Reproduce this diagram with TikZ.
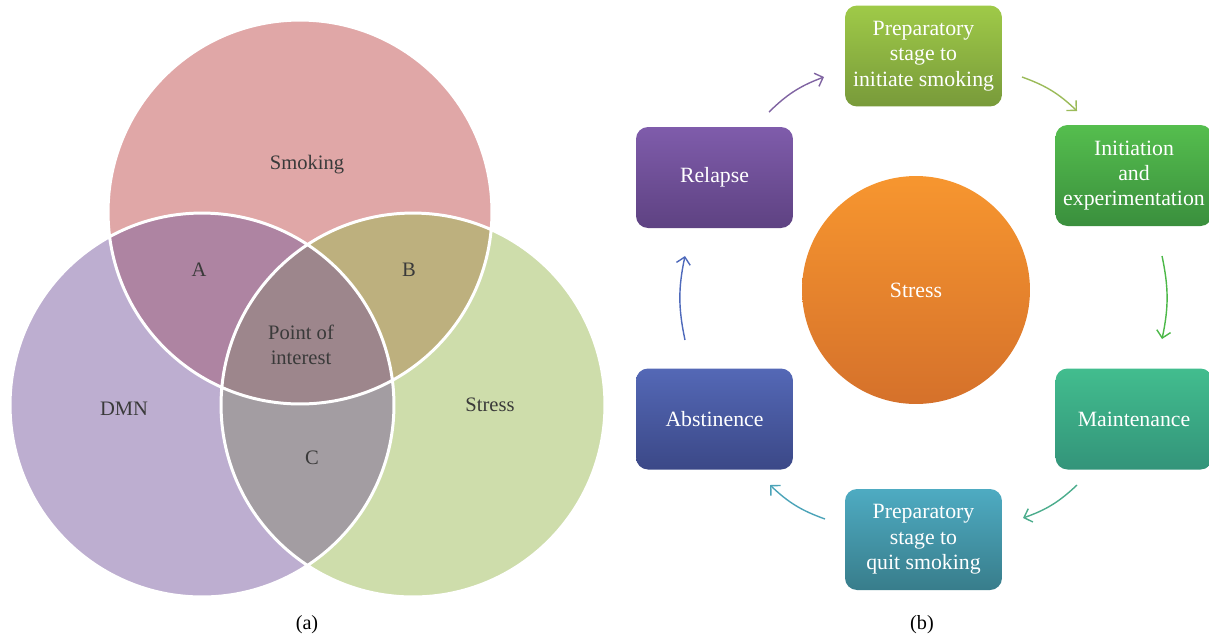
\documentclass[tikz,border=0pt]{standalone}
\usepackage{fontspec}
\setmainfont{Liberation Serif}
\usetikzlibrary{arrows.meta}
\definecolor{smk}{HTML}{E0A7A7}
\definecolor{dmn}{HTML}{BDAED0}
\definecolor{strs}{HTML}{CEDDAB}
\definecolor{regA}{HTML}{AE84A2}
\definecolor{regB}{HTML}{BDB07E}
\definecolor{regC}{HTML}{A39DA2}
\definecolor{regP}{HTML}{9D868C}
\definecolor{vtext}{HTML}{3A3A3A}
\definecolor{aPur}{HTML}{8064A2}
\definecolor{aLg}{HTML}{9BBB59}
\definecolor{aGr}{HTML}{4CB848}
\definecolor{aTe}{HTML}{4BAC8C}
\definecolor{aCy}{HTML}{4BA3B8}
\definecolor{aBl}{HTML}{4F6ABB}
\definecolor{stT}{HTML}{F7962F}\definecolor{stB}{HTML}{D5712B}
\definecolor{prT}{HTML}{9FCA48}\definecolor{prB}{HTML}{789A3A}
\definecolor{inT}{HTML}{55BE4E}\definecolor{inB}{HTML}{3A8F3D}
\definecolor{maT}{HTML}{42BD8E}\definecolor{maB}{HTML}{33947A}
\definecolor{quT}{HTML}{4EABC2}\definecolor{quB}{HTML}{387D8B}
\definecolor{abT}{HTML}{5468B6}\definecolor{abB}{HTML}{3B4887}
\definecolor{reT}{HTML}{7F5CAB}\definecolor{reB}{HTML}{5E4282}
\tikzset{
  vlabel/.style={text=vtext, font=\fontsize{11.7}{14.2}\selectfont, align=center},
  stagebox/.style={rectangle, rounded corners=0.24cm, minimum width=3.14cm, minimum height=2.02cm,
    text=white, align=center, font=\fontsize{12.4}{14.4}\selectfont, inner sep=1pt},
  arr/.style={line width=0.8pt, -{Straight Barb[length=4pt,width=8pt,line width=0.8pt]}},
  caption/.style={text=black, font=\fontsize{11.5}{14}\selectfont}
}
\begin{document}
\begin{tikzpicture}[x=0.02cm,y=-0.02cm]
\useasboundingbox (0,0) rectangle (1209,637);
% ---------- Venn (a)
\def\smkc{(300,212) circle (3.84cm)}
\def\dmnc{(202,405) circle (3.84cm)}
\def\strc{(413,405) circle (3.84cm)}
\fill[smk] \smkc;
\fill[dmn] \dmnc;
\fill[strs] \strc;
\begin{scope}\clip \smkc; \fill[regA] \dmnc; \end{scope}
\begin{scope}\clip \smkc; \fill[regB] \strc; \end{scope}
\begin{scope}\clip \dmnc; \fill[regC] \strc; \end{scope}
\begin{scope}\clip \smkc; \clip \dmnc; \fill[regP] \strc; \end{scope}
\draw[white, line width=1.7pt] \smkc \dmnc \strc;
\node[vlabel] (lsmk) at (307,165) {Smoking};
\node[vlabel] (la) at (199,270) {A};
\node[vlabel] (lb) at (409,270) {B};
\node[vlabel] (lp) at (301,345) {Point of\\interest};
\node[vlabel] (ldmn) at (124,409) {DMN};
\node[vlabel] (lstr) at (490,405) {Stress};
\node[vlabel] (lc) at (312,458) {C};
\node[caption] (capa) at (307,625) {(a)};
% ---------- Cycle (b)
\node[circle, minimum size=4.56cm, top color=stT, bottom color=stB, text=white,
  font=\fontsize{12.4}{14}\selectfont] (stress) at (916,290) {Stress};
\node[stagebox, top color=prT, bottom color=prB] (prep) at (923.5,56) {Preparatory\\stage to\\initiate smoking};
\node[stagebox, top color=inT, bottom color=inB] (init) at (1134,175.5) {Initiation\\and\\experimentation};
\node[stagebox, top color=maT, bottom color=maB] (maint) at (1134,419) {Maintenance};
\node[stagebox, top color=quT, bottom color=quB] (quit) at (923.5,539.5) {Preparatory\\stage to\\quit smoking};
\node[stagebox, top color=abT, bottom color=abB] (abst) at (714.5,419) {Abstinence};
\node[stagebox, top color=reT, bottom color=reB] (relapse) at (714.5,177.5) {Relapse};
% arrow end points
\coordinate (r1) at (769,112); \coordinate (r2) at (824,77);
\coordinate (p1) at (1022,77); \coordinate (p2) at (1077,111);
\coordinate (i1) at (1162,256); \coordinate (i2) at (1162,339);
\coordinate (m1) at (1077,485); \coordinate (m2) at (1023,518);
\coordinate (q1) at (825,519); \coordinate (q2) at (770,485);
\coordinate (a1) at (685,340); \coordinate (a2) at (685,256);
\draw[arr, aPur] (r1) to[bend left=12] (r2);
\draw[arr, aLg] (p1) to[bend left=12] (p2);
\draw[arr, aGr] (i1) to[bend left=12] (i2);
\draw[arr, aTe] (m1) to[bend left=12] (m2);
\draw[arr, aCy] (q1) to[bend left=12] (q2);
\draw[arr, aBl] (a1) to[bend left=12] (a2);
\node[caption] (capb) at (922,625) {(b)};
\end{tikzpicture}
\end{document}
